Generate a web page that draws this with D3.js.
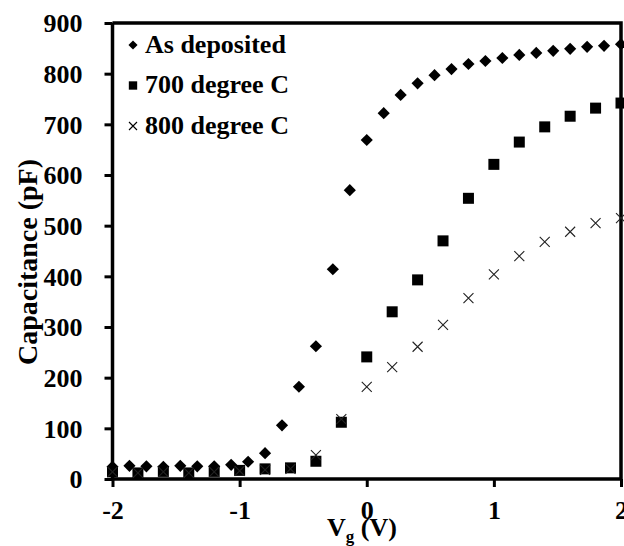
<!DOCTYPE html>
<html>
<head>
<meta charset="utf-8">
<script src="https://cdn.jsdelivr.net/npm/d3@7"></script>
<style>
body { margin: 0; background: #fff; }
text { font-family: "Liberation Serif", "Times New Roman", serif; font-weight: bold; }
</style>
</head>
<body>
<div id="chart-area"></div>
<script>
// as deposited sampled every 4/30 V, annealed samples every 0.2 V
var asDepV = d3.range(31).map((i) => -2 + i * 4 / 30);
var asDepC = [24, 26, 25, 24, 26, 25, 25, 28, 34, 51, 106, 182, 262, 414, 570, 669,
    722, 758, 781, 797, 809, 819, 825, 831, 837, 841, 845, 849, 853, 855, 858];
var annV = d3.range(21).map((i) => -2 + i * 0.2);
var c700 = [14, 12, 15, 12, 15, 17, 20, 22, 35, 112, 241, 330, 393, 470, 554, 621, 665, 695, 716, 732, 742];
var c800 = [14, 12, 14, 12, 14, 16, 18, 20, 47, 118, 182, 221, 261, 304, 357, 404, 440, 468, 488, 505, 515];
var xTicks = [-2, -1, 0, 1, 2];
var yTicks = [0, 100, 200, 300, 400, 500, 600, 700, 800, 900];
var seriesNames = ["As deposited", "700 degree C", "800 degree C"];

var margin = {left: 112.5, right: 3, top: 23, bottom: 67};
var width = 624 - margin.left - margin.right;
var height = 546 - margin.top - margin.bottom;

var svg = d3.select('#chart-area')
.append('svg')
.attr('width', 624)
.attr('height', 546);

var g = svg.append("g")
.attr("transform", "translate(" + margin.left + ", " + margin.top + ")");

var x = d3.scaleLinear().domain([-2, 2]).range([0, width]);
var y = d3.scaleLinear().domain([0, 900]).range([height, 0]);

// frame top and right
g.append("path")
.attr("d", "M0,0H" + width + "V" + height)
.attr("fill", "none")
.attr("stroke", "#000")
.attr("stroke-width", 3.5);

var botAxis = d3.axisBottom(x).tickValues(xTicks).tickSize(8).tickPadding(14)
.tickFormat((d) => d);
var bot = g.append("g")
.attr("class", "bottom axis")
.attr("transform", "translate(0, " + height + ")")
.call(botAxis);

var leftAxis = d3.axisLeft(y).tickValues(yTicks).tickSize(8).tickPadding(22);
var left = g.append("g")
.attr("class", "left axis")
.call(leftAxis);

[bot, left].forEach((a) => {
    a.select(".domain").attr("stroke-width", 3.5).attr("d", a === bot ? "M0,0H" + width : "M0," + height + "V0");
    a.selectAll(".tick line").attr("stroke-width", 3);
    a.selectAll("text").attr("font-size", "26px").attr("fill", "#000")
    .style("font-family", "'Liberation Serif', serif").style("font-weight", "bold");
});
left.selectAll("text").attr("dy", "0.34em");

var diamond = d3.symbol().type(d3.symbolSquare).size(74);
var square = d3.symbol().type(d3.symbolSquare).size(121);
function cross(r) { return "M" + (-r) + "," + (-r) + "L" + r + "," + r + "M" + (-r) + "," + r + "L" + r + "," + (-r); }

var dep = asDepV.map((v, i) => ({v: v, c: asDepC[i]}));
var s700 = annV.map((v, i) => ({v: v, c: c700[i]}));
var s800 = annV.map((v, i) => ({v: v, c: c800[i]}));

g.selectAll(".dep").data(dep).enter()
.append("path")
.attr("class", "dep")
.attr("d", diamond)
.attr("transform", (d) => "translate(" + x(d.v) + "," + y(d.c) + ") rotate(45)")
.attr("fill", "#000");

g.selectAll(".s700").data(s700).enter()
.append("path")
.attr("class", "s700")
.attr("d", square)
.attr("transform", (d) => "translate(" + x(d.v) + "," + y(d.c) + ")")
.attr("fill", "#000");

g.selectAll(".s800").data(s800).enter()
.append("path")
.attr("class", "s800")
.attr("d", cross(5))
.attr("transform", (d) => "translate(" + x(d.v) + "," + y(d.c) + ")")
.attr("stroke", "#222")
.attr("stroke-width", 1.1)
.attr("fill", "none");

// legend
var leg = svg.append("g").attr("transform", "translate(133, 45)");
seriesNames.forEach((name, i) => {
    var row = leg.append("g").attr("transform", "translate(0," + (i * 40.5) + ")");
    if (i == 0) {
        row.append("path").attr("d", d3.symbol().type(d3.symbolSquare).size(42)).attr("transform", "rotate(45)").attr("fill", "#000");
    } else if (i == 1) {
        row.append("path").attr("d", d3.symbol().type(d3.symbolSquare).size(70)).attr("fill", "#000");
    } else {
        row.append("path").attr("d", cross(4)).attr("stroke", "#000").attr("stroke-width", 1.1);
    }
    row.append("text")
    .attr("x", 12)
    .attr("y", 7.5)
    .attr("font-size", "26px")
    .text(name);
});

svg.append("text")
.attr("x", -262)
.attr("y", 37)
.attr("font-size", "28px")
.attr("text-anchor", "middle")
.attr("transform", "rotate(-90)")
.text("Capacitance (pF)");

var xt = svg.append("text")
.attr("x", 362)
.attr("y", 536)
.attr("font-size", "26px")
.attr("text-anchor", "middle");
xt.append("tspan").text("V");
xt.append("tspan").attr("font-size", "17px").attr("dy", 6).text("g");
xt.append("tspan").attr("dy", -6).text(" (V)");
</script>
</body>
</html>
